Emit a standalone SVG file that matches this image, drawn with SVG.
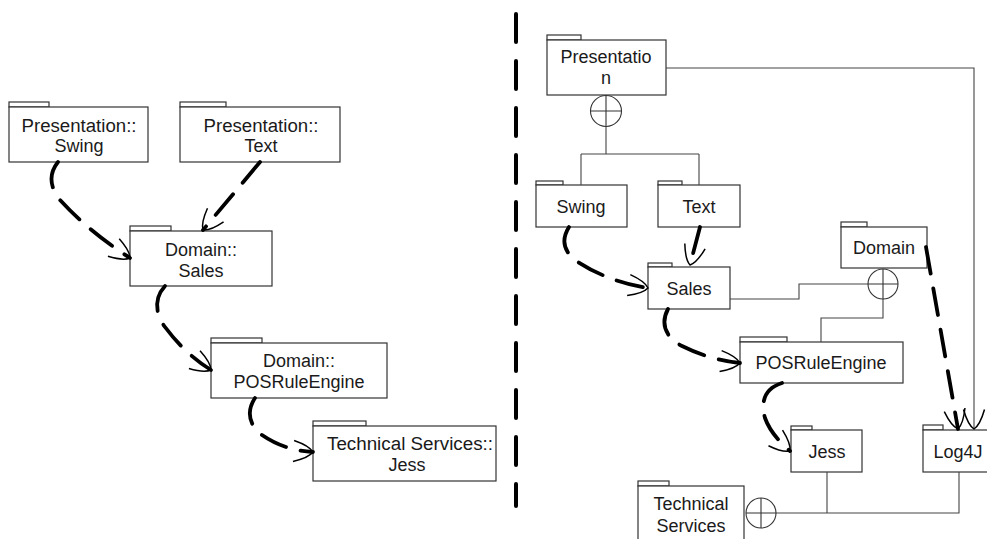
<svg xmlns="http://www.w3.org/2000/svg" width="987" height="539" viewBox="0 0 987 539">
  <style>
    .pkg rect { fill: #ffffff; stroke: #333333; stroke-width: 1.2; }
    .pkg text { font-family: "Liberation Sans", Arial, sans-serif; font-size: 18px; fill: #1a1a1a; text-anchor: middle; }
    .dep { fill: none; stroke: #000000; stroke-width: 3.8; stroke-dasharray: 27 15; stroke-linecap: round; }
    .link { fill: none; stroke: #444444; stroke-width: 1.1; }
    .nest { fill: #ffffff; stroke: #333333; stroke-width: 1.1; }
    .divider { fill: none; stroke: #000000; stroke-width: 4; stroke-dasharray: 28 19; stroke-linecap: round; }
  </style>
  <defs>
    <marker id="open" markerUnits="userSpaceOnUse" markerWidth="30" markerHeight="30" viewBox="-16 -10 20 20" refX="0" refY="0" orient="auto" overflow="visible">
      <path d="M-13,-7 C-6,-5 -2,-3 0,0 C-2,3 -6,5 -13,7" fill="none" stroke="#000" stroke-width="1" stroke-dasharray="none"/>
    </marker>
  </defs>

  <rect width="987" height="539" fill="#ffffff"/>

  <!-- vertical separator between the two views -->
  <line class="divider" x1="516" y1="14" x2="516" y2="506"/>

  <!-- left view: qualified package names -->
  <g id="l-swing" class="pkg">
    <rect x="9" y="102" width="40" height="5"/>
    <rect x="9" y="107" width="139" height="55"/>
    <text x="79" y="132" textLength="115" lengthAdjust="spacingAndGlyphs">Presentation::</text>
    <text x="79" y="152">Swing</text>
  </g>
  <g id="l-text" class="pkg">
    <rect x="180" y="102" width="46" height="5"/>
    <rect x="180" y="107" width="160" height="55"/>
    <text x="261" y="132" textLength="115" lengthAdjust="spacingAndGlyphs">Presentation::</text>
    <text x="261" y="152">Text</text>
  </g>
  <g id="l-sales" class="pkg">
    <rect x="130" y="226" width="41" height="5"/>
    <rect x="130" y="231" width="142" height="55"/>
    <text x="201" y="256">Domain::</text>
    <text x="201" y="277">Sales</text>
  </g>
  <g id="l-posruleengine" class="pkg">
    <rect x="211" y="338" width="51" height="5"/>
    <rect x="211" y="343" width="176" height="55"/>
    <text x="299" y="367">Domain::</text>
    <text x="299" y="388">POSRuleEngine</text>
  </g>
  <g id="l-jess" class="pkg">
    <rect x="313" y="421" width="53" height="5"/>
    <rect x="313" y="426" width="183" height="55"/>
    <text x="410" y="450" textLength="166" lengthAdjust="spacingAndGlyphs">Technical Services::</text>
    <text x="407" y="471">Jess</text>
  </g>

  <!-- right view: nested packages -->
  <g id="r-presentation" class="pkg">
    <rect x="547" y="35" width="34" height="5"/>
    <rect x="547" y="40" width="119" height="55"/>
    <text x="606" y="63">Presentatio</text>
    <text x="606" y="84">n</text>
  </g>
  <g id="r-swing" class="pkg">
    <rect x="536" y="181" width="27" height="4"/>
    <rect x="536" y="185" width="91" height="42"/>
    <text x="581" y="213">Swing</text>
  </g>
  <g id="r-text" class="pkg">
    <rect x="658" y="181" width="24" height="4"/>
    <rect x="658" y="185" width="82" height="42"/>
    <text x="699" y="213">Text</text>
  </g>
  <g id="r-domain" class="pkg">
    <rect x="841" y="222" width="26" height="5"/>
    <rect x="841" y="227" width="86" height="41"/>
    <text x="884" y="254">Domain</text>
  </g>
  <g id="r-sales" class="pkg">
    <rect x="648" y="263" width="24" height="4"/>
    <rect x="648" y="267" width="82" height="42"/>
    <text x="689" y="295">Sales</text>
  </g>
  <g id="r-posruleengine" class="pkg">
    <rect x="740" y="337" width="47" height="5"/>
    <rect x="740" y="342" width="163" height="41"/>
    <text x="821" y="369">POSRuleEngine</text>
  </g>
  <g id="r-jess" class="pkg">
    <rect x="791" y="426" width="21" height="4"/>
    <rect x="791" y="430" width="71" height="42"/>
    <text x="827" y="458">Jess</text>
  </g>
  <g id="r-log4j" class="pkg">
    <rect x="923" y="425" width="20" height="5"/>
    <rect x="923" y="430" width="66" height="42"/>
    <text x="958" y="458">Log4J</text>
  </g>
  <g id="r-technical-services" class="pkg">
    <rect x="638" y="481" width="31" height="5"/>
    <rect x="638" y="486" width="106" height="60"/>
    <text x="691" y="510">Technical</text>
    <text x="691" y="532">Services</text>
  </g>

  <g id="connectors">
    <!-- containment links -->
    <path class="link" d="M606,126.5 V154 M581,154 H699 M581,154 V185 M699,154 V185"/>
    <path class="link" d="M666,68 H974 V429" marker-end="url(#open)"/>
    <path class="link" d="M730,299 H799 V284 H868"/>
    <path class="link" d="M883,299 V318 H821 V342"/>
    <path class="link" d="M776,513 H959 V472 M827,472 V513"/>

    <g class="nest">
      <circle cx="606" cy="111" r="15.5"/>
      <path d="M590.5,111 H621.5 M606,95.5 V126.5"/>
      <circle cx="883" cy="284" r="15"/>
      <path d="M868,284 H898 M883,269 V299"/>
      <circle cx="761" cy="513" r="15"/>
      <path d="M746,513 H776 M761,498 V528"/>
    </g>

    <!-- dependencies, left view -->
    <path class="dep" d="M58,162 C50,172 48,185 60,200 C80,222 105,242 130,258" marker-end="url(#open)"/>
    <path class="dep" d="M260,162 L203,230" marker-end="url(#open)"/>
    <path class="dep" d="M165,286 C155,297 154,312 165,327 C180,347 195,360 211,370" marker-end="url(#open)"/>
    <path class="dep" d="M255,398 C247,410 248,425 262,435 C278,446 295,451 313,452" marker-end="url(#open)"/>

    <!-- dependencies, right view -->
    <path class="dep" d="M569,227 C561,240 563,252 578,262 C598,275 622,284 648,288" marker-end="url(#open)"/>
    <path class="dep" d="M700,227 L690,265" marker-end="url(#open)"/>
    <path class="dep" d="M668,309 C661,322 664,337 682,346 C700,355 720,361 740,363" marker-end="url(#open)"/>
    <path class="dep" d="M782,383 C766,388 760,400 765,418 C770,432 780,442 790,451" marker-end="url(#open)"/>
    <path class="dep" d="M926,247 L958,429" marker-end="url(#open)"/>
  </g>
</svg>
